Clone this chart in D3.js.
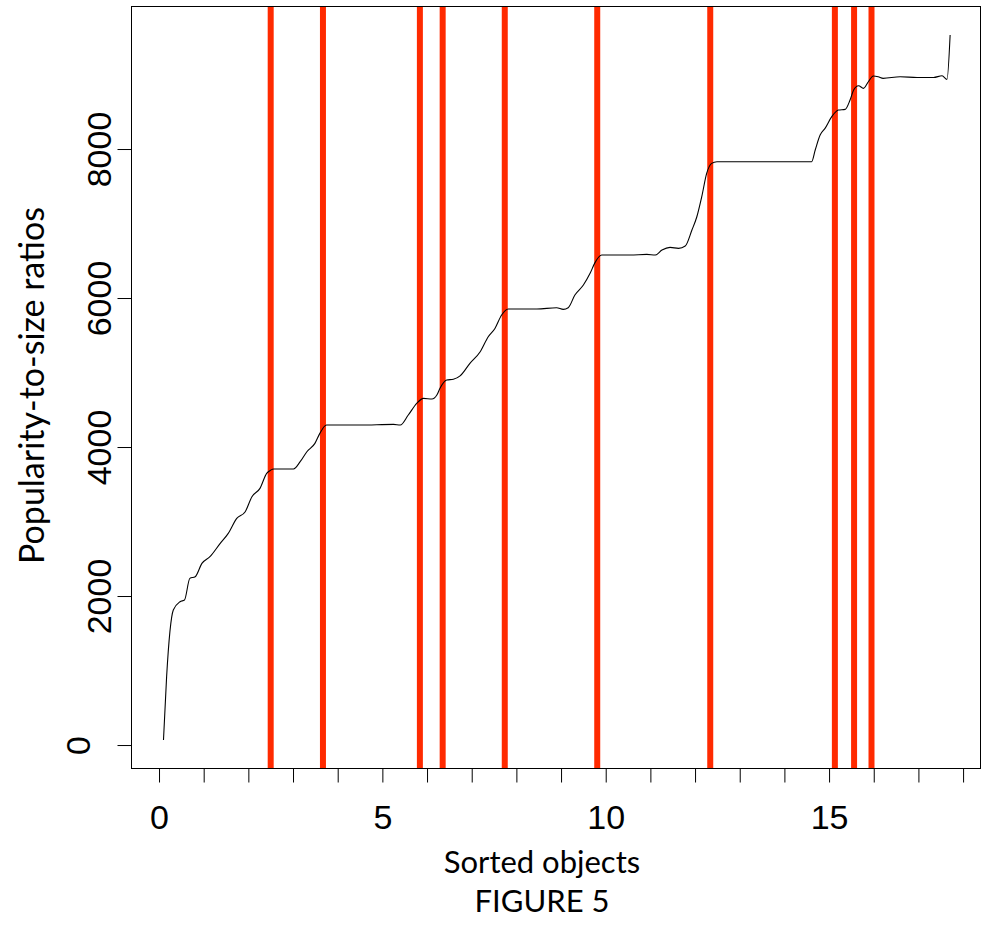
<!DOCTYPE html>
<html>
<head>
  <title>Figure 5 - popularity-to-size ratios</title>
  <script src="https://d3js.org/d3.v7.min.js"></script>
  <style>
    body { margin: 0; background: #fff; }
    svg { font-family: Lato, "Open Sans", sans-serif; }
    .tick-label { font-size: 34px; fill: #000; }
    .axis-title { font-size: 34px; fill: #000; }
    .x-title { font-size: 31px; fill: #000; }
  </style>
</head>
<body>
  <svg width="982" height="928"></svg>

  <script>
    // sorted objects (x) vs popularity-to-size ratio (y)
    const objX = [0.10, 0.17, 0.32, 0.47, 0.57, 0.69, 0.81, 0.96, 1.14, 1.37, 1.55, 1.74, 1.93, 2.08, 2.26, 2.41,
      2.50, 2.57, 3.01, 3.16, 3.31, 3.49, 3.60, 3.75, 4.50, 5.25, 5.40, 5.58, 5.77, 5.92, 6.11, 6.22,
      6.29, 6.44, 6.59, 6.74, 6.96, 7.19, 7.37, 7.52, 7.67, 7.82, 8.46, 8.90, 9.05, 9.16, 9.31, 9.50,
      9.65, 9.76, 9.91, 10.55, 10.92, 11.11, 11.26, 11.44, 11.63, 11.78, 11.93, 12.04, 12.15, 12.26,
      12.37, 12.49, 13.53, 14.61, 14.69, 14.80, 14.91, 15.06, 15.21, 15.36, 15.47, 15.55, 15.66,
      15.77, 15.88, 15.99, 16.10, 16.21, 16.59, 16.97, 17.34, 17.53, 17.64, 17.71];
    const ratio = [67, 917, 1812, 1924, 1946, 2237, 2259, 2438, 2528, 2707, 2841, 3043, 3132, 3333, 3445, 3646,
      3690, 3705, 3705, 3803, 3937, 4049, 4183, 4295, 4295, 4304, 4295, 4430, 4586, 4653, 4644, 4698,
      4788, 4899, 4910, 4955, 5123, 5279, 5480, 5592, 5772, 5852, 5852, 5870, 5848, 5870, 6040, 6174,
      6331, 6475, 6577, 6577, 6586, 6577, 6644, 6680, 6667, 6698, 6913, 7091, 7360, 7673,
      7807, 7830, 7830, 7830, 7987, 8188, 8277, 8434, 8523, 8532, 8658, 8792, 8850,
      8814, 8903, 8980, 8970, 8948, 8970, 8961, 8961, 8983, 8935, 9530];

    // positions of the red vertical markers
    const breaks = [2.50, 3.67, 5.84, 6.35, 7.74, 9.81, 12.34, 15.13, 15.56, 15.95];

    const xTicks = d3.range(0, 19);
    const xTickLabels = [0, 5, 10, 15];
    const yTicks = [0, 2000, 4000, 6000, 8000];

    const svg = d3.select("svg");
    const plot = { left: 131.5, right: 980.5, top: 6.5, bottom: 768.5 };

    const x = d3.scaleLinear().domain([-0.616, 18.39]).range([plot.left, plot.right]);
    const y = d3.scaleLinear().domain([-315, 9913]).range([plot.bottom, plot.top]);

    // red markers
    svg.append("g")
      .selectAll("line")
      .data(breaks)
      .join("line")
      .attr("x1", d => x(d)).attr("x2", d => x(d))
      .attr("y1", plot.top).attr("y2", plot.bottom)
      .attr("stroke", "#ff2a00")
      .attr("stroke-width", 6);

    // curve
    const pts = objX.map((v, i) => [v, ratio[i]]);
    const line = d3.line()
      .x(d => x(d[0]))
      .y(d => y(d[1]))
      .curve(d3.curveMonotoneX);
    svg.append("path")
      .datum(pts)
      .attr("fill", "none")
      .attr("stroke", "#000")
      .attr("stroke-width", 1.1)
      .attr("d", line);

    // box
    svg.append("rect")
      .attr("x", plot.left).attr("y", plot.top)
      .attr("width", plot.right - plot.left).attr("height", plot.bottom - plot.top)
      .attr("fill", "none").attr("stroke", "#000").attr("stroke-width", 1);

    // x axis: tick every unit, labels every 5
    const xAxis = d3.axisBottom(x)
      .tickValues(xTicks)
      .tickSize(14)
      .tickFormat(d => xTickLabels.includes(d) ? d : "");
    const gx = svg.append("g")
      .attr("transform", `translate(0,${plot.bottom})`)
      .call(xAxis);
    gx.select(".domain").remove();
    gx.selectAll(".tick line").attr("stroke", "#000");
    gx.selectAll(".tick text")
      .attr("class", "tick-label")
      .attr("font-family", null).attr("font-size", null)
      .attr("y", 60).attr("dy", 0);

    // y axis, labels parallel to the axis
    const yAxis = d3.axisLeft(y).tickValues(yTicks).tickSize(14).tickFormat(d3.format("d"));
    const gy = svg.append("g")
      .attr("transform", `translate(${plot.left},0)`)
      .call(yAxis);
    gy.select(".domain").remove();
    gy.selectAll(".tick line").attr("stroke", "#000");
    gy.selectAll(".tick text")
      .attr("class", "tick-label")
      .attr("font-family", null).attr("font-size", null)
      .attr("x", null).attr("dy", null)
      .attr("text-anchor", "middle")
      .attr("transform", d => `translate(${d === 0 ? -42 : -21},0) rotate(-90)`);

    // titles
    svg.append("text")
      .attr("class", "axis-title")
      .attr("transform", `translate(44,${(plot.top + plot.bottom) / 2 - 2}) rotate(-90)`)
      .attr("text-anchor", "middle")
      .text("Popularity-to-size ratios");

    svg.append("text")
      .attr("class", "x-title")
      .attr("x", 542).attr("y", 873)
      .attr("text-anchor", "middle")
      .text("Sorted objects");

    svg.append("text")
      .attr("class", "x-title")
      .attr("x", 542).attr("y", 912)
      .attr("text-anchor", "middle")
      .text("FIGURE 5");
  </script>
</body>
</html>
